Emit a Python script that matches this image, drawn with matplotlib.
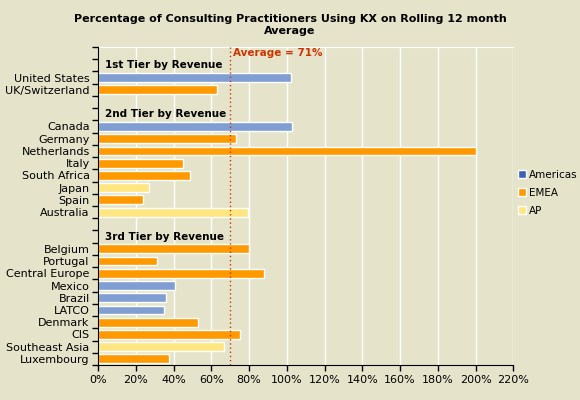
import numpy as np
import matplotlib
matplotlib.use("Agg")
import matplotlib.pyplot as plt
from matplotlib.patches import Patch

# rows top -> bottom; "" rows are blank / tier heading rows
rows = ["", "", "United States", "UK/Switzerland",
        "", "", "Canada", "Germany", "Netherlands", "Italy", "South Africa",
        "Japan", "Spain", "Australia",
        "", "", "Belgium", "Portugal", "Central Europe", "Mexico", "Brazil",
        "LATCO", "Denmark", "CIS", "Southeast Asia", "Luxembourg"]
values = [0, 0, 102, 63,
          0, 0, 102.5, 73, 200, 45, 48.5, 27, 24, 79.5,
          0, 0, 80, 31.5, 88, 41, 36, 35, 53, 75, 66.5, 37.5]
regions = ["", "", "Americas", "EMEA",
           "", "", "Americas", "EMEA", "EMEA", "EMEA", "EMEA", "AP", "EMEA", "AP",
           "", "", "EMEA", "EMEA", "EMEA", "Americas", "Americas", "Americas",
           "EMEA", "EMEA", "AP", "EMEA"]
tiers = {1: "1st Tier by Revenue", 5: "2nd Tier by Revenue", 15: "3rd Tier by Revenue"}
avg_line = 70
avg_text = "Average = 71%"

bar_col = {"Americas": "#809ed2", "EMEA": "#ff9900", "AP": "#ffe680"}
leg_col = {"Americas": "#3f62b0", "EMEA": "#ff9900", "AP": "#ffe680"}
bg = "#e5e4cb"

plt.rcParams["font.family"] = ["DejaVu Sans"]
fig = plt.figure(figsize=(5.8, 4.0), dpi=100, facecolor=bg)
ax = fig.add_axes([0.169, 0.0875, 0.716, 0.795], facecolor=bg)

y = np.arange(len(rows))
keep = [i for i, r in enumerate(regions) if r]
ax.barh([y[i] for i in keep], [values[i] for i in keep], height=0.72,
        color=[bar_col[regions[i]] for i in keep],
        edgecolor="white", linewidth=1, zorder=3)

ax.set_ylim(len(rows) - 0.5, -0.5)
ax.set_xlim(0, 220)
ax.set_xticks(np.arange(0, 221, 20))
ax.set_xticklabels(["%d%%" % v for v in range(0, 221, 20)], fontsize=8)
ax.grid(axis="x", color="white", linewidth=1, zorder=1)
ax.set_yticks(y)
ax.set_yticklabels(rows, fontsize=8)
ax.tick_params(axis="y", length=0, pad=6)
ax.set_yticks(np.arange(-0.5, len(rows), 1), minor=True)
ax.tick_params(axis="y", which="minor", length=4, width=1, color="black")
ax.tick_params(axis="x", length=4, width=1, color="black", pad=3)

ax.spines["top"].set_color("white")
ax.spines["right"].set_visible(False)
ax.spines["left"].set_color("black")
ax.spines["bottom"].set_color("black")
ax.spines["left"].set_zorder(5)
ax.spines["bottom"].set_zorder(5)

for r, t in tiers.items():
    ax.text(3.5, r, t, fontsize=7.5, fontweight="bold", va="center", ha="left", zorder=4)

ax.axvline(avg_line, color="#cc3300", linestyle=(0, (1, 2)), linewidth=1, zorder=4)
ax.text(avg_line + 1.5, 0, avg_text, color="#cc3300", fontsize=7.5,
        fontweight="bold", va="center", ha="left", zorder=4)

fig.suptitle("Percentage of Consulting Practitioners Using KX on Rolling 12 month\nAverage",
             fontsize=8, fontweight="bold", y=0.965, linespacing=1.25)

handles = [Patch(facecolor=leg_col[k], edgecolor="white", label=k) for k in ["Americas", "EMEA", "AP"]]
fig.legend(handles=handles, loc="center left", bbox_to_anchor=(0.886, 0.518),
           frameon=False, fontsize=7.5, handlelength=0.8, handleheight=0.8,
           handletextpad=0.25, labelspacing=0.75, borderaxespad=0)

fig.savefig("out.png", dpi=100, facecolor=bg)
